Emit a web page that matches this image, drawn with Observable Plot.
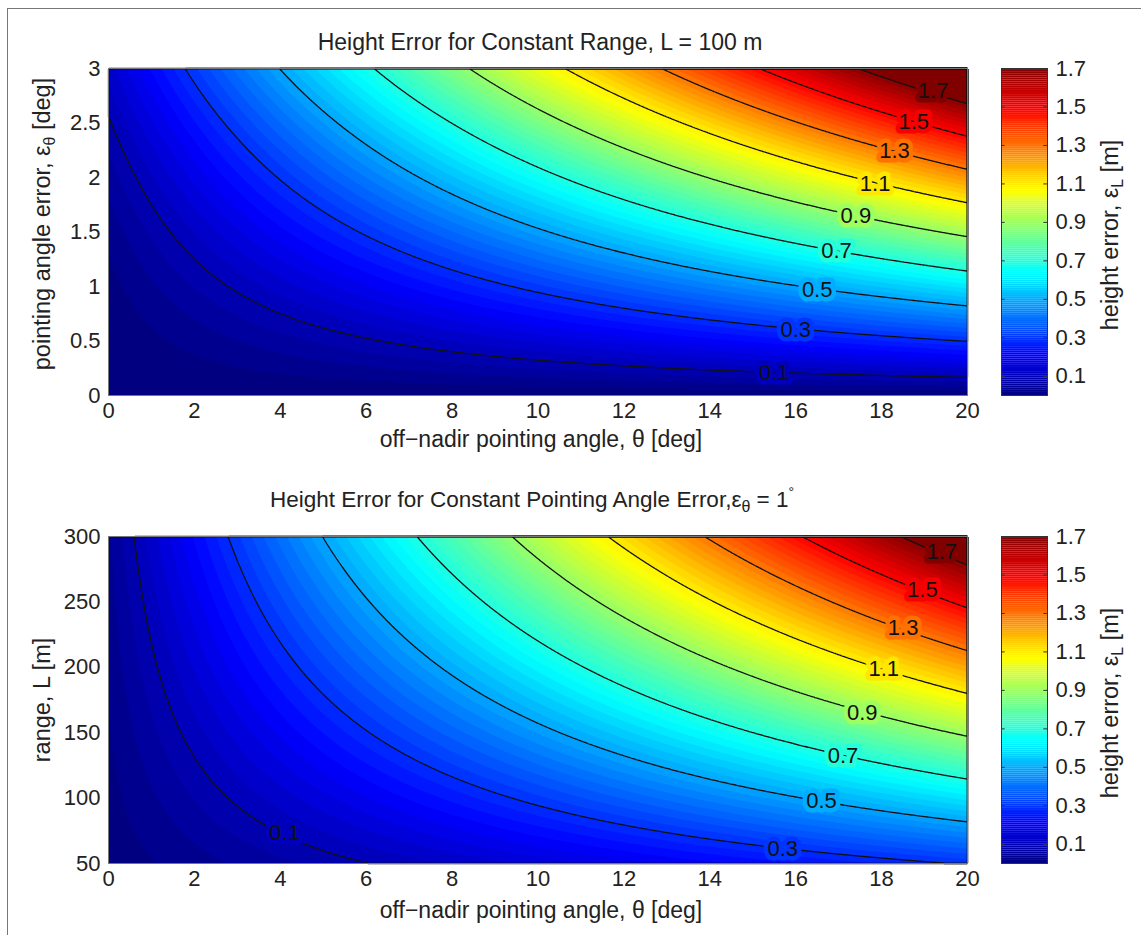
<!DOCTYPE html>
<html>
<head>
<meta charset="utf-8">
<script src="https://cdn.jsdelivr.net/npm/d3@7"></script>
<script src="https://cdn.jsdelivr.net/npm/@observablehq/plot@0.6"></script>
<style>
  body { margin: 0; background: #fff; }
  #fig { position: relative; width: 1141px; height: 935px; overflow: hidden; background: #fff;
         font-family: "Liberation Sans", Arial, Helvetica, sans-serif; color: #222; }
  #fig > svg, #fig > div { position: absolute; }
  .txt { white-space: nowrap; font-size: 23px; line-height: 23px; transform: translate(-50%, 0); }
  .txt.small { font-size: 22.5px; }
  .rot { white-space: nowrap; font-size: 23.5px; line-height: 23px; transform: translate(-50%, -50%) rotate(-90deg); }
  sub { font-size: 16px; vertical-align: -5px; line-height: 0; }
  sup { font-size: 14px; vertical-align: 10px; line-height: 0; }
  .border { left: 7px; top: 8px; width: 1200px; height: 1000px; border-left: 1.5px solid #777; border-top: 1.5px solid #777; }
</style>
</head>
<body>
<div id="fig"></div>
<script>
// ---------- data ----------
// off-nadir pointing angle θ [deg] (columns of both grids)
const theta = [0, 1, 2, 3, 4, 5, 6, 8, 10, 12, 14, 16, 18, 20];

// top panel: pointing angle error ε_θ [deg] (rows), height error ε_L [m], L = 100 m
const pointingError = [0, 0.5, 1, 1.5, 2, 2.5, 3];
const heightErrorL100 = [
  [0, 0, 0, 0, 0, 0, 0, 0, 0, 0, 0, 0, 0, 0],
  [0.0038, 0.0190, 0.0343, 0.0495, 0.0647, 0.0799, 0.0950, 0.1252, 0.1553, 0.1852, 0.2148, 0.2442, 0.2733, 0.3020],
  [0.0152, 0.0457, 0.0761, 0.1065, 0.1369, 0.1673, 0.1976, 0.2580, 0.3181, 0.3778, 0.4370, 0.4957, 0.5538, 0.6112],
  [0.0343, 0.0800, 0.1256, 0.1712, 0.2168, 0.2623, 0.3077, 0.3983, 0.4883, 0.5778, 0.6665, 0.7545, 0.8415, 0.9275],
  [0.0609, 0.1218, 0.1827, 0.2435, 0.3042, 0.3649, 0.4254, 0.5460, 0.6660, 0.7852, 0.9034, 1.0205, 1.1364, 1.2509],
  [0.0952, 0.1713, 0.2474, 0.3233, 0.3992, 0.4750, 0.5506, 0.7013, 0.8512, 1.0000, 1.1476, 1.2938, 1.4384, 1.5813],
  [0.1371, 0.2284, 0.3196, 0.4108, 0.5018, 0.5927, 0.6834, 0.8641, 1.0438, 1.2222, 1.3991, 1.5743, 1.7476, 1.9188]
];

// bottom panel: range L [m] (rows), height error ε_L [m], ε_θ = 1°
const rangeL = [50, 100, 150, 200, 250, 300];
const heightErrorEps1 = [
  [0.0076, 0.0228, 0.0381, 0.0533, 0.0685, 0.0836, 0.0988, 0.1290, 0.1590, 0.1889, 0.2185, 0.2478, 0.2769, 0.3056],
  [0.0152, 0.0457, 0.0761, 0.1065, 0.1369, 0.1673, 0.1976, 0.2580, 0.3181, 0.3778, 0.4370, 0.4957, 0.5538, 0.6112],
  [0.0228, 0.0685, 0.1142, 0.1598, 0.2054, 0.2509, 0.2964, 0.3870, 0.4771, 0.5666, 0.6555, 0.7435, 0.8307, 0.9168],
  [0.0305, 0.0914, 0.1523, 0.2131, 0.2739, 0.3346, 0.3951, 0.5160, 0.6361, 0.7555, 0.8740, 0.9914, 1.1076, 1.2224],
  [0.0381, 0.1142, 0.1903, 0.2664, 0.3424, 0.4182, 0.4939, 0.6450, 0.7952, 0.9444, 1.0925, 1.2392, 1.3845, 1.5281],
  [0.0457, 0.1371, 0.2284, 0.3196, 0.4108, 0.5018, 0.5927, 0.7739, 0.9542, 1.1333, 1.3110, 1.4871, 1.6614, 1.8337]
];

// contour levels and tick labels
const contourLevels = [0.1, 0.3, 0.5, 0.7, 0.9, 1.1, 1.3, 1.5, 1.7];
const xTicks = [0, 2, 4, 6, 8, 10, 12, 14, 16, 18, 20];
const yTicksTop = [0, 0.5, 1, 1.5, 2, 2.5, 3];
const yTicksBottom = [50, 100, 150, 200, 250, 300];
const colorbarTicks = [0.1, 0.3, 0.5, 0.7, 0.9, 1.1, 1.3, 1.5, 1.7];

// inline contour-label anchors (θ, second axis)
const labelThetaTop = [15.5, 16.0, 16.5, 16.95, 17.4, 17.85, 18.3, 18.75, 19.2];
const labelEpsTop   = [0.21, 0.60, 0.97, 1.33, 1.65, 1.94, 2.24, 2.51, 2.79];
const labelThetaBot = [4.1, 15.7, 16.6, 17.1, 17.55, 18.05, 18.5, 18.95, 19.4];
const labelRangeBot = [73, 61, 98, 132, 165, 199, 230, 259, 288];

// ---------- build ----------
const FONT = '"Liberation Sans", Arial, Helvetica, sans-serif';
const color = {
  type: "linear",
  domain: [0, 0.2125, 0.6375, 1.0625, 1.4875, 1.7],
  range: ["#000080", "#0000ff", "#00ffff", "#ffff00", "#ff0000", "#800000"],
  clamp: true
};
const bandThresholds = d3.range(0, 1.95, 0.025);

// natural cubic spline through (xs, ys), xs ascending
function spline(xs, ys) {
  const n = xs.length, h = [], al = [], l = [1], mu = [0], z = [0], b = [], c = new Array(n).fill(0), d = [];
  for (let i = 0; i < n - 1; i++) h[i] = xs[i + 1] - xs[i];
  for (let i = 1; i < n - 1; i++) al[i] = 3 / h[i] * (ys[i + 1] - ys[i]) - 3 / h[i - 1] * (ys[i] - ys[i - 1]);
  for (let i = 1; i < n - 1; i++) {
    l[i] = 2 * (xs[i + 1] - xs[i - 1]) - h[i - 1] * mu[i - 1];
    mu[i] = h[i] / l[i];
    z[i] = (al[i] - h[i - 1] * z[i - 1]) / l[i];
  }
  for (let j = n - 2; j >= 0; j--) {
    c[j] = z[j] - mu[j] * c[j + 1];
    b[j] = (ys[j + 1] - ys[j]) / h[j] - h[j] * (c[j + 1] + 2 * c[j]) / 3;
    d[j] = (c[j + 1] - c[j]) / (3 * h[j]);
  }
  return x => {
    let j = d3.bisectRight(xs, x) - 1;
    j = Math.max(0, Math.min(n - 2, j));
    const t = x - xs[j];
    return ys[j] + b[j] * t + c[j] * t * t + d[j] * t * t * t;
  };
}

// smooth spatial interpolation of the gridded samples for Plot's contour mark
function splineInterpolate(index, w, h, X, Y, V) {
  const key = v => Math.round(v * 1000) / 1000;
  const idx = Array.from(index);
  const xs = Array.from(new Set(idx.map(i => key(X[i])))).sort((a, b) => a - b);
  const ys = Array.from(new Set(idx.map(i => key(Y[i])))).sort((a, b) => a - b);
  const grid = ys.map(() => new Array(xs.length).fill(0));
  for (const i of idx) grid[ys.indexOf(key(Y[i]))][xs.indexOf(key(X[i]))] = V[i];
  const cols = xs.map((_, c) => {
    const f = spline(ys, ys.map((_, r) => grid[r][c]));
    const out = new Float64Array(h);
    for (let j = 0; j < h; ++j) out[j] = f(j + 0.5);
    return out;
  });
  const out = new Array(w * h);
  for (let j = 0; j < h; ++j) {
    const f = spline(xs, cols.map(col => col[j]));
    for (let i = 0; i < w; ++i) out[i + j * w] = f(i + 0.5);
  }
  return out;
}

function tidy(rows, grid) {
  return rows.flatMap((r, i) => theta.map((t, j) => ({t, r, v: grid[i][j]})));
}
function labelsOf(ts, rs) {
  return contourLevels.map((v, i) => ({t: ts[i], r: rs[i], v}));
}

function panel(data, yDomain, yTicks, labels) {
  const box = {x1: 0, x2: 20, y1: yDomain[0], y2: yDomain[1]};
  return Plot.plot({
    width: 1000, height: 460,
    marginLeft: 108, marginRight: 33, marginTop: 68, marginBottom: 65,
    style: {fontFamily: FONT, fontSize: "22px", color: "#222", background: "transparent", overflow: "visible"},
    x: {domain: [0, 20], ticks: xTicks, tickSize: 0, tickPadding: 7, label: null, tickFormat: d => String(d)},
    y: {domain: yDomain, ticks: yTicks, tickSize: 0, tickPadding: 8, label: null, tickFormat: d => String(d)},
    color,
    marks: [
      Plot.frame({fill: "#000080", stroke: "none"}),
      Plot.contour(data, {x: "t", y: "r", fill: "v", stroke: "none", thresholds: bandThresholds,
        interpolate: splineInterpolate, pixelSize: 1, ...box}),
      Plot.contour(data, {x: "t", y: "r", value: "v", thresholds: contourLevels, fill: "none",
        stroke: "#111", strokeWidth: 1.3, interpolate: splineInterpolate, pixelSize: 1, ...box}),
      Plot.text(labels, {x: "t", y: "r", text: d => d.v.toFixed(1), fill: "#111", stroke: "v",
        strokeWidth: 9, paintOrder: "stroke", strokeLinejoin: "round", fontSize: 22, fontFamily: FONT}),
      Plot.frame({stroke: "#777", strokeWidth: 1})
    ]
  });
}

function colorbar() {
  const steps = d3.range(0, 1.7, 0.01);
  return Plot.plot({
    width: 140, height: 460,
    marginLeft: 0, marginRight: 94, marginTop: 68, marginBottom: 65,
    style: {fontFamily: FONT, fontSize: "22px", color: "#222", background: "transparent", overflow: "visible"},
    x: {domain: [0, 1], axis: null},
    y: {domain: [0, 1.7], axis: "right", ticks: colorbarTicks, tickSize: 0, tickPadding: 8, label: null,
        tickFormat: d3.format(".1f")},
    color,
    marks: [
      Plot.rect(steps, {x1: 0, x2: 1, y1: d => d, y2: d => Math.min(1.7, d + 0.0105), fill: d => d + 0.005}),
      Plot.ruleY(colorbarTicks, {x1: 0, x2: 0.08, stroke: "#333"}),
      Plot.ruleY(colorbarTicks, {x1: 0.92, x2: 1, stroke: "#333"}),
      Plot.frame({stroke: "#333", strokeWidth: 1})
    ]
  });
}

const fig = document.getElementById("fig");
function place(node, left, top) { node.style.left = left + "px"; node.style.top = top + "px"; fig.appendChild(node); return node; }
function html(cls, inner, left, top) {
  const d = document.createElement("div"); d.className = cls; d.innerHTML = inner; return place(d, left, top);
}

const border = document.createElement("div"); border.className = "border"; fig.appendChild(border);

place(panel(tidy(pointingError, heightErrorL100), [0, 3], yTicksTop, labelsOf(labelThetaTop, labelEpsTop)), 0, 0);
place(panel(tidy(rangeL, heightErrorEps1), [50, 300], yTicksBottom, labelsOf(labelThetaBot, labelRangeBot)), 0, 468);
place(colorbar(), 1001, 0);
place(colorbar(), 1001, 468);

html("txt", "Height Error for Constant Range, L = 100 m", 540, 31);
html("txt", "off&minus;nadir pointing angle, &theta; [deg]", 541, 428);
html("rot", "pointing angle error, &epsilon;<sub>&theta;</sub> [deg]", 42, 224);
html("rot", "height error, &epsilon;<sub>L</sub> [m]", 1110, 235);

html("txt small", "Height Error for Constant Pointing Angle Error,&epsilon;<sub>&theta;</sub> = 1<sup>&deg;</sup>", 532, 488);
html("txt", "off&minus;nadir pointing angle, &theta; [deg]", 541, 899);
html("rot", "range, L [m]", 42, 700);
html("rot", "height error, &epsilon;<sub>L</sub> [m]", 1110, 703);
</script>
</body>
</html>
